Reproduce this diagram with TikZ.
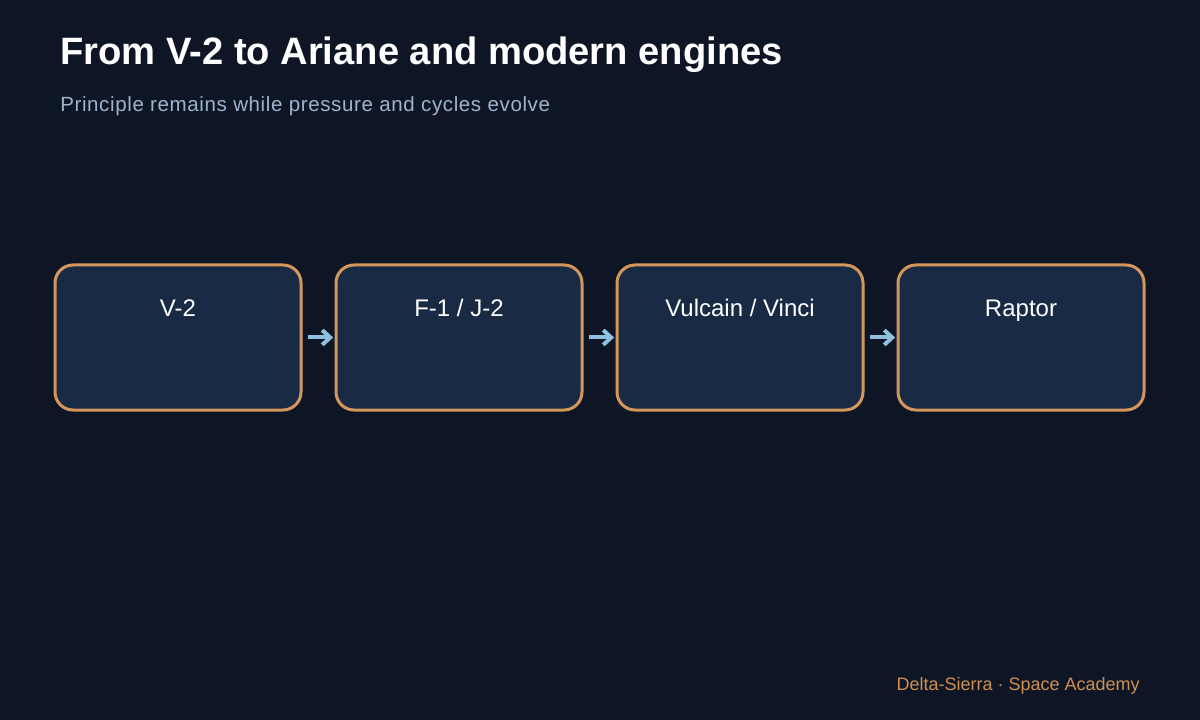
\documentclass[tikz,border=0pt]{standalone}
\usepackage{fontspec}
\setmainfont{Liberation Sans}
\usetikzlibrary{arrows.meta}
\definecolor{bg}{HTML}{0E1626}
\definecolor{boxfill}{HTML}{182A44}
\definecolor{boxline}{HTML}{D4965A}
\definecolor{arrowc}{HTML}{8FC0E0}
\definecolor{subc}{HTML}{9FB4CC}
\definecolor{footc}{HTML}{D08F50}
\tikzset{
  stagebox/.style={draw=boxline, line width=2.25pt, fill=boxfill, rounded corners=13.5pt,
    minimum width=184.5pt, minimum height=108.75pt, inner sep=0pt},
  stagelabel/.style={text=white, font=\fontsize{18}{20}\selectfont, anchor=base, inner sep=0pt},
  flowarrow/.style={draw=arrowc, line width=3pt, -{Straight Barb[length=6pt,width=11pt,line width=3pt]}}
}
\begin{document}
\begin{tikzpicture}[x=0.75pt,y=-0.75pt]
\fill[bg] (0,0) rectangle (1200,720);
\useasboundingbox (0,0) rectangle (1200,720);
\node[anchor=base west, inner sep=0pt, text=white, font=\fontsize{28.6}{32}\selectfont\bfseries] (title) at (60,65) {From V-2 to Ariane and modern engines};
\node[anchor=base west, inner sep=0pt, text=subc, font=\fontsize{15.4}{18}\selectfont\addfontfeatures{LetterSpace=3}] (sub) at (60,112) {Principle remains while pressure and cycles evolve};
\node[stagebox] (b1) at (178,337.5) {};
\node[stagebox] (b2) at (459,337.5) {};
\node[stagebox] (b3) at (740,337.5) {};
\node[stagebox] (b4) at (1021,337.5) {};
\node[stagelabel] (l1) at (178,317) {V-2};
\node[stagelabel] (l2) at (459,317) {F-1 / J-2};
\node[stagelabel] (l3) at (740,317) {Vulcain / Vinci};
\node[stagelabel] (l4) at (1021,317) {Raptor};
\draw[flowarrow, shorten <=4pt, shorten >=1pt] (b1.east) -- (b2.west);
\draw[flowarrow, shorten <=4pt, shorten >=1pt] (b2.east) -- (b3.west);
\draw[flowarrow, shorten <=4pt, shorten >=1pt] (b3.east) -- (b4.west);
\node[anchor=base east, inner sep=0pt, text=footc, font=\fontsize{13.5}{16}\selectfont] (foot) at (1140,690) {Delta-Sierra · Space Academy};
\end{tikzpicture}
\end{document}
